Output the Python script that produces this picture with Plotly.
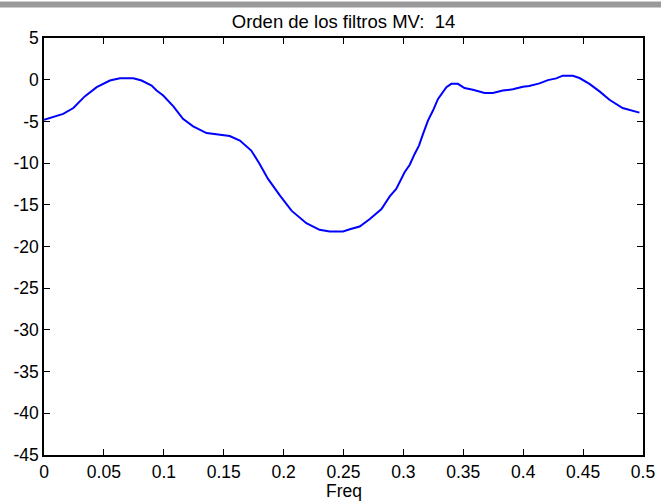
import plotly.graph_objects as go

freq = [0, 0.016, 0.0245, 0.034, 0.044, 0.055, 0.0634, 0.0745, 0.0815, 0.0898,
        0.094, 0.0995, 0.108, 0.116, 0.1245, 0.1357, 0.147, 0.155, 0.1635, 0.173,
        0.180, 0.187, 0.197, 0.2066, 0.219, 0.230, 0.2385, 0.2496, 0.256, 0.2635,
        0.272, 0.2817, 0.2886, 0.294, 0.301, 0.3053, 0.3094, 0.313, 0.3164, 0.3205,
        0.3247, 0.3289, 0.3359, 0.340, 0.3455, 0.351, 0.358, 0.3678, 0.3747, 0.383,
        0.3914, 0.3997, 0.405, 0.4136, 0.4206, 0.4276, 0.433, 0.4414, 0.447, 0.4553,
        0.4637, 0.472, 0.483, 0.4914, 0.497]
mag = [-4.8, -4.1, -3.4, -2.0, -0.9, -0.1, 0.16, 0.16, -0.1, -0.7,
       -1.3, -1.9, -3.2, -4.7, -5.6, -6.4, -6.6, -6.75, -7.3, -8.5,
       -10.1, -11.9, -13.9, -15.7, -17.2, -18.0, -18.2, -18.2, -17.9, -17.6,
       -16.7, -15.5, -14.0, -13.1, -11.1, -10.2, -8.9, -7.9, -6.5, -4.9,
       -3.7, -2.3, -0.9, -0.5, -0.5, -1.0, -1.2, -1.6, -1.6, -1.3,
       -1.15, -0.85, -0.76, -0.44, -0.05, 0.16, 0.48, 0.48, 0.2, -0.5,
       -1.4, -2.4, -3.4, -3.7, -3.95]

x_ticks = [0, 0.05, 0.1, 0.15, 0.2, 0.25, 0.3, 0.35, 0.4, 0.45, 0.5]
x_labels = ["0", "0.05", "0.1", "0.15", "0.2", "0.25", "0.3", "0.35", "0.4", "0.45", "0.5"]
y_ticks = [5, 0, -5, -10, -15, -20, -25, -30, -35, -40, -45]
y_labels = ["5", "0", "-5", "-10", "-15", "-20", "-25", "-30", "-35", "-40", "-45"]

title_text = "Orden de los filtros MV:\u00a0 14"
x_title = "Freq"

FONT = "Arial, 'Liberation Sans', sans-serif"

fig = go.Figure()
fig.add_trace(go.Scatter(x=freq, y=mag, mode="lines",
                         line=dict(color="#0000ff", width=2), showlegend=False))

W, H = 661, 503
ml, mr, mt, mb = 43.5, 17.5, 37.5, 48
pw, ph = W - ml - mr, H - mt - mb

fig.update_layout(
    width=W, height=H,
    margin=dict(l=ml, r=mr, t=mt, b=mb, pad=0, autoexpand=False),
    paper_bgcolor="white", plot_bgcolor="white",
    font=dict(family=FONT, size=17.5, color="black"),
    title=dict(text=title_text, x=0.5, xref="paper", xanchor="center",
               y=1 - 22 / H, yref="container", yanchor="middle",
               font=dict(family=FONT, size=18.5, color="black")),
    xaxis=dict(range=[0, 0.5], tickvals=x_ticks, ticktext=x_labels,
               ticks="inside", ticklen=6, tickcolor="black", tickwidth=1,
               showline=True, linecolor="black", linewidth=1.5, mirror="ticks",
               showgrid=False, zeroline=False, automargin=False),
    yaxis=dict(range=[-45, 5], tickvals=y_ticks, ticktext=y_labels,
               ticks="inside", ticklen=6, tickcolor="black", tickwidth=1,
               showline=True, linecolor="black", linewidth=1.5, mirror="ticks",
               showgrid=False, zeroline=False, automargin=False),
    annotations=[dict(text=x_title, xref="paper", yref="paper", x=0.5,
                      y=-(491 - (H - mb)) / ph, xanchor="center", yanchor="middle",
                      showarrow=False, font=dict(family=FONT, size=17.5, color="black"))],
    shapes=[dict(type="rect", xref="paper", yref="paper",
                 x0=-0.2, x1=1.2,
                 y0=1 + (mt - 7) / ph, y1=1 + (mt - 1) / ph,
                 fillcolor="#999999", line=dict(width=0), layer="above")],
)

fig.write_html("out.html",
               config={"displayModeBar": False},
               post_script="document.body.style.margin='0';document.body.style.overflow='hidden';")
